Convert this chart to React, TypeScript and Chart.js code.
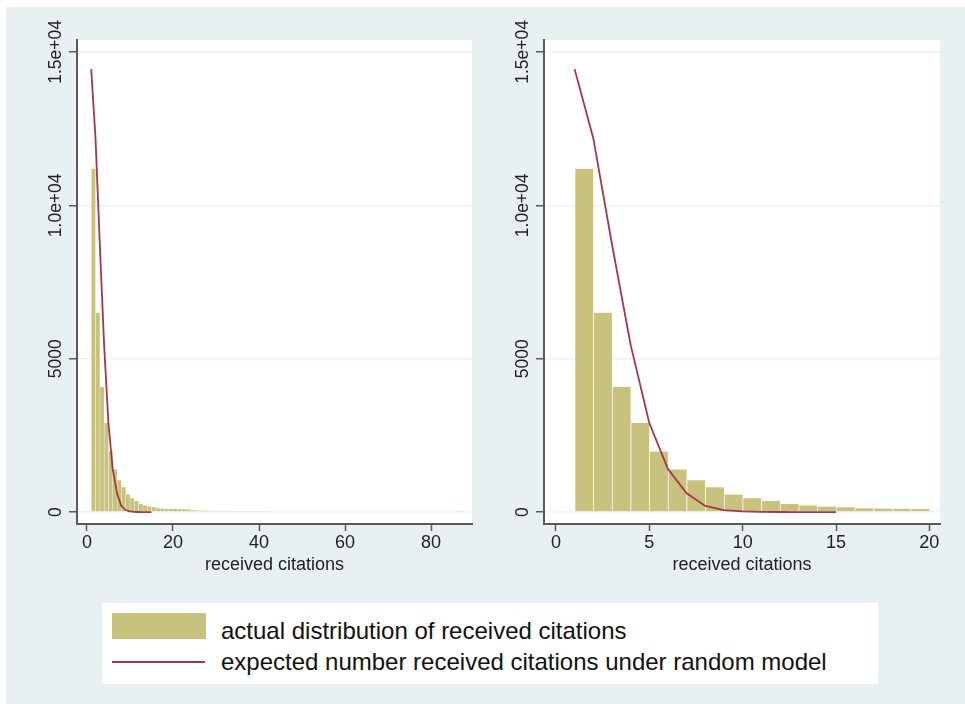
import React, { useEffect, useRef } from "react";
import { Chart, registerables } from "chart.js";

Chart.register(...registerables);

// ---------- data ----------
const yTicks = [0, 5000, 10000, 15000];
const yTickLabels = ["0", "5000", "1.0e+04", "1.5e+04"];
const leftXTicks = [0, 20, 40, 60, 80];
const rightXTicks = [0, 5, 10, 15, 20];

// histogram bins (lower edge, width 1) shared by both panels
const headBins = [1, 2, 3, 4, 5, 6, 7, 8, 9, 10, 11, 12, 13, 14, 15, 16, 17, 18, 19];
const headCounts = [11190, 6500, 4080, 2900, 1970, 1390, 1040, 810, 570, 450, 360, 270, 215, 180, 160, 120, 115, 110, 108];

// long tail only shown in the left panel
const tailBins = [20, 21, 22, 23, 24, 25, 26, 27, 28, 29, 30, 31, 32, 33, 34, 35, 36, 37, 38, 39, 40, 41, 42, 43, 45, 46, 47, 49, 50, 53, 54, 58, 59, 60, 63, 64, 86];
const tailCounts = [100, 95, 90, 85, 55, 52, 50, 48, 46, 44, 42, 40, 38, 37, 36, 35, 34, 33, 32, 31, 30, 30, 29, 28, 25, 25, 25, 25, 25, 25, 25, 25, 25, 25, 25, 25, 20];

const modelX = [1, 2, 3, 4, 5, 6, 7, 8, 9, 10, 11, 12, 13, 14, 15];
const modelY = [14440, 12190, 8730, 5450, 2900, 1400, 610, 200, 65, 20, 5, 1, 0, 0, 0];

const xTitle = "received citations";
const legendLabels = [
  "actual distribution of received citations",
  "expected number received citations under random model",
];

// ---------- styles ----------
const FONT = '"Liberation Sans", Arial, Helvetica, sans-serif';
const BAR = "#c9c27f";
const LINE = "#a3374d";
const BG = "#e9f0f2";
const AXIS = "#5a5a5a";
const GRID = "#edf2f3";
const TEXT = "#222";

const plotBg = {
  id: "plotBg",
  beforeDraw(chart: any) {
    const { ctx, chartArea } = chart;
    ctx.save();
    ctx.fillStyle = "#ffffff";
    ctx.fillRect(chartArea.left, chartArea.top, chartArea.right - chartArea.left, chartArea.bottom - chartArea.top);
    ctx.restore();
  },
};

const yLabels = {
  id: "yLabels",
  afterDraw(chart: any) {
    const s = chart.scales.y;
    const ctx = chart.ctx;
    ctx.save();
    ctx.fillStyle = TEXT;
    ctx.font = `17.5px ${FONT}`;
    ctx.textAlign = "center";
    ctx.textBaseline = "middle";
    yTicks.forEach((v, i) => {
      const y = s.getPixelForValue(v);
      ctx.save();
      ctx.translate(chart.chartArea.left - 21, y);
      ctx.rotate(-Math.PI / 2);
      ctx.fillText(yTickLabels[i], 0, 0);
      ctx.restore();
    });
    ctx.restore();
  },
};

type PanelProps = {
  bins: number[];
  counts: number[];
  xMin: number;
  xMax: number;
  xTicks: number[];
  left: number;
  width: number;
  padRight: number;
  yAxisWidth: number;
  sepWidth: number;
};

function Panel(p: PanelProps) {
  const ref = useRef<HTMLCanvasElement | null>(null);
  const height = 590;
  useEffect(() => {
    if (!ref.current) return;
    const chart = new Chart(ref.current, {
      type: "bar",
      data: {
        datasets: [
          {
            type: "line",
            data: modelX.map((x, i) => ({ x, y: modelY[i] })),
            borderColor: LINE,
            borderWidth: 1.8,
            pointRadius: 0,
            tension: 0,
            fill: false,
            order: 0,
          } as any,
          {
            type: "bar",
            data: p.bins.map((b, i) => ({ x: b + 0.5, y: p.counts[i] })),
            backgroundColor: BAR,
            borderColor: "rgba(255,255,255,0.5)",
            borderWidth: { left: p.sepWidth, right: 0, top: 0, bottom: 0 },
            borderSkipped: false,
            barPercentage: 1,
            categoryPercentage: 1,
            grouped: false,
            order: 1,
          } as any,
        ],
      },
      options: {
        animation: false,
        responsive: false,
        maintainAspectRatio: false,
        layout: { padding: { top: 40, right: p.padRight, bottom: 14, left: 0 } },
        plugins: { legend: { display: false }, tooltip: { enabled: false } },
        scales: {
          x: {
            type: "linear",
            min: p.xMin,
            max: p.xMax,
            offset: false,
            afterBuildTicks: (a: any) => {
              a.ticks = p.xTicks.map((value) => ({ value }));
            },
            afterFit: (s: any) => {
              s.height = 52;
            },
            grid: {
              drawOnChartArea: false,
              drawTicks: true,
              tickLength: 7,
              tickColor: AXIS,
              tickWidth: 1.5,
              offset: false,
            },
            border: { color: AXIS, width: 2 },
            ticks: {
              font: { family: FONT, size: 18 },
              color: TEXT,
              padding: 1,
              maxRotation: 0,
              autoSkip: false,
            },
            title: {
              display: true,
              text: xTitle,
              font: { family: FONT, size: 18 },
              color: TEXT,
              padding: 0,
            },
          },
          y: {
            type: "linear",
            min: -390,
            max: 15390,
            afterBuildTicks: (a: any) => {
              a.ticks = yTicks.map((value) => ({ value }));
            },
            afterFit: (s: any) => {
              s.width = p.yAxisWidth;
            },
            grid: {
              color: GRID,
              lineWidth: 1.5,
              drawTicks: true,
              tickLength: 8,
              tickColor: AXIS,
              tickWidth: 1.5,
            },
            border: { color: AXIS, width: 2 },
            ticks: { display: false },
          },
        },
      } as any,
      plugins: [plotBg, yLabels],
    });
    return () => chart.destroy();
  }, []);
  return (
    <canvas
      ref={ref}
      width={p.width}
      height={height}
      style={{ position: "absolute", left: p.left, top: 0, width: p.width, height }}
    />
  );
}

const legendText: React.CSSProperties = {
  position: "absolute",
  left: 119,
  fontFamily: FONT,
  fontSize: 24,
  lineHeight: "28px",
  color: "#111",
  whiteSpace: "nowrap",
};

export default function App() {
  return (
    <div style={{ position: "absolute", left: 0, top: 0, width: 965, height: 704, overflow: "hidden", background: "#fff" }}>
      <div style={{ position: "absolute", left: 6, top: 7, width: 959, height: 697, background: BG }} />
      <Panel
        bins={[...headBins, ...tailBins]}
        counts={[...headCounts, ...tailCounts]}
        xMin={-2.3}
        xMax={89.5}
        xTicks={leftXTicks}
        left={0}
        width={482}
        padRight={10}
        yAxisWidth={77}
        sepWidth={0.6}
      />
      <Panel
        bins={headBins}
        counts={headCounts}
        xMin={-0.64}
        xMax={20.57}
        xTicks={rightXTicks}
        left={482}
        width={483}
        padRight={25}
        yAxisWidth={62}
        sepWidth={1}
      />
      <div style={{ position: "absolute", left: 102, top: 603, width: 776, height: 81, background: "#fff" }}>
        <div style={{ position: "absolute", left: 10, top: 10, width: 94, height: 26, background: BAR }} />
        <div style={{ ...legendText, top: 13.5 }}>{legendLabels[0]}</div>
        <div style={{ position: "absolute", left: 10, top: 57.5, width: 93, height: 2.5, background: LINE }} />
        <div style={{ ...legendText, top: 45 }}>{legendLabels[1]}</div>
      </div>
    </div>
  );
}
